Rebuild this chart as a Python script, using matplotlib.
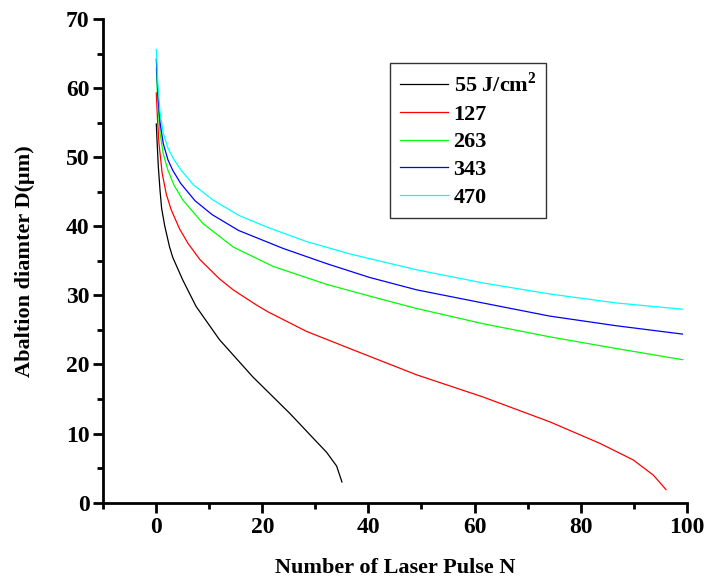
import matplotlib
matplotlib.use("Agg")
import matplotlib.pyplot as plt
from matplotlib.ticker import MultipleLocator

plt.rcParams['font.family'] = ['Liberation Serif', 'DejaVu Serif']
plt.rcParams['font.weight'] = 'bold'
plt.rcParams['mathtext.fontset'] = 'custom'
plt.rcParams['mathtext.rm'] = 'Liberation Serif:bold'
plt.rcParams['mathtext.bf'] = 'Liberation Serif:bold'

# Ablation diameter vs. number of laser pulses for several fluences
n_55 = [0, 0.13, 0.38, 0.7, 1.0, 1.6, 2.5, 3.1, 5.0, 7.5, 11.9, 18.2, 25.2,
        29.5, 32.1, 34.0, 35.0]
d_55 = [54.8, 52.5, 48.6, 45.2, 42.6, 40.0, 37.0, 35.5, 32.2, 28.4, 23.6, 18.2,
        12.9, 9.4, 7.3, 5.3, 3.0]

n_127 = [0, 0.2, 0.5, 1.1, 1.9, 2.8, 4.4, 6.0, 8.2, 11.9, 14.5, 18.9, 21.1,
         28.3, 36.5, 49.1, 61.6, 74.2, 83.6, 89.9, 93.7, 96.1]
d_127 = [59.3, 55.8, 52.0, 47.7, 44.6, 42.4, 39.6, 37.5, 35.2, 32.4, 30.8, 28.6,
         27.6, 24.8, 22.3, 18.5, 15.3, 11.7, 8.6, 6.2, 4.0, 1.9]

n_263 = [0, 0.3, 0.7, 1.3, 2.2, 3.3, 5.0, 8.8, 14.5, 22.0, 32.1, 40.2, 49.1,
         61.6, 74.2, 86.8, 99.2]
d_263 = [62.9, 57.5, 53.5, 50.5, 48.1, 46.0, 43.8, 40.4, 37.0, 34.2, 31.6, 29.9,
         28.1, 25.9, 24.0, 22.3, 20.7]

n_343 = [0, 0.3, 0.7, 1.3, 2.2, 3.1, 4.6, 7.3, 10.5, 15.5, 23.9, 32.1, 40.2,
         49.1, 61.6, 74.2, 86.8, 99.2]
d_343 = [64.2, 59.0, 55.0, 52.0, 49.6, 48.1, 46.2, 43.7, 41.7, 39.4, 36.8, 34.6,
         32.6, 30.8, 28.9, 27.0, 25.6, 24.4]

n_470 = [0, 0.3, 0.7, 1.3, 2.2, 3.2, 4.6, 7.0, 10.7, 15.5, 20.8, 28.3, 36.5,
         49.1, 61.6, 74.2, 86.8, 99.2]
d_470 = [65.6, 60.5, 56.5, 53.5, 51.3, 49.8, 48.2, 46.0, 43.8, 41.6, 39.9, 37.8,
         36.0, 33.7, 31.8, 30.2, 28.9, 28.0]

labels = ['55 J/cm$^{2}$', '127', '263', '343', '470']
colors = ['#000000', '#ff0000', '#00ff00', '#0000ff', '#00ffff']
series = [(n_55, d_55), (n_127, d_127), (n_263, d_263), (n_343, d_343), (n_470, d_470)]

fig = plt.figure(figsize=(7.05, 5.79), dpi=100)
ax = fig.add_axes([0.1465, 0.1318, 0.8275, 0.8354])

for (n, d), c, lab in zip(series, colors, labels):
    ax.plot(n, d, color=c, lw=0.9, label=lab, solid_joinstyle='round')

ax.set_xlim(-10, 100)
ax.set_ylim(0, 70)
ax.xaxis.set_major_locator(MultipleLocator(20))
ax.xaxis.set_minor_locator(MultipleLocator(10))
ax.yaxis.set_major_locator(MultipleLocator(10))
ax.yaxis.set_minor_locator(MultipleLocator(5))

for s in ['top', 'right']:
    ax.spines[s].set_visible(False)
for s in ['left', 'bottom']:
    ax.spines[s].set_linewidth(2.0)

ax.tick_params(which='major', direction='out', length=7, width=2.0,
               labelsize=17, pad=3)
ax.tick_params(which='minor', direction='out', length=4, width=2.0)
for t in ax.get_xticklabels() + ax.get_yticklabels():
    t.set_fontweight('bold')

ax.set_xlabel('Number of Laser Pulse N', fontsize=16, fontweight='bold', labelpad=15)
ax.set_ylabel('Abaltion diamter D(μm)', fontsize=16, fontweight='bold', labelpad=22)

leg = ax.legend(loc='upper left', bbox_to_anchor=(0.491, 0.910), borderaxespad=0,
                frameon=True, fancybox=False, shadow=False,
                handlelength=2.15, handletextpad=0.27, labelspacing=0.32,
                borderpad=0.45, prop={'weight': 'bold', 'size': 16})
leg.get_frame().set_edgecolor('#000000')
leg.get_frame().set_linewidth(1.0)

fig.savefig('out.png', dpi=100)
